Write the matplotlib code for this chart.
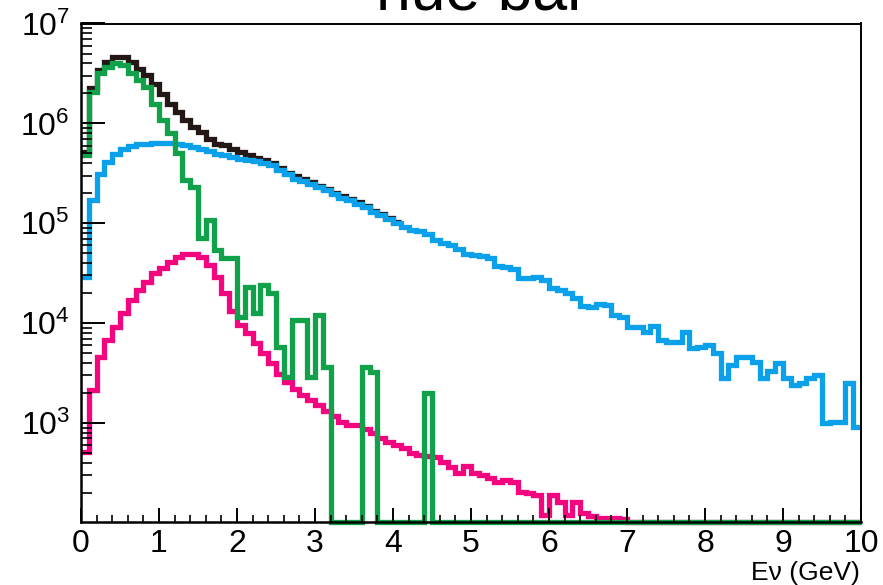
#!/usr/bin/env python3
# -*- coding: utf-8 -*-

"""
Energy spectrum (nue bar), ROOT-style log histogram.
Four stacked-looking components drawn as step outlines, 100 bins over 0-10 GeV.
"""

import numpy as np

import matplotlib
matplotlib.use("Agg", force=True)
import matplotlib.pyplot as plt
from matplotlib.ticker import FixedLocator, LogLocator, MultipleLocator, NullFormatter

# binning
E_MIN, E_MAX, N_BINS = 0.0, 10.0, 100

# total (black) - only the part that is not hidden under the blue curve
total = [
    513000, 2240000, 3390000, 4100000, 4600000, 4600000, 4100000, 3520000, 3020000, 2490000,
    1980000, 1570000, 1300000, 1070000, 918000, 818000, 703000, 627000, 603000, 558000,
    516000, 479000, 452000, 427000, 403000, 355000, 320000, 295000, 279000, 257000,
    237000, 221000, 200000, 186000, 174000, 162000, 148000, 133000, 123000, 114000,
    103000,
]

# blue component
blue = [
    29000, 170000, 314000, 410000, 498000, 558000, 589000, 617000, 627000, 635000,
    635000, 635000, 617000, 603000, 579000, 558000, 528000, 498000, 479000, 460000,
    442000, 427000, 417000, 398000, 380000, 339000, 309000, 280000, 265000, 249000,
    228000, 214000, 195000, 181000, 170000, 157000, 144000, 130000, 120000, 111000,
    101000, 91800, 85100, 83200, 78900, 67600, 62700, 60300, 55800, 49000,
    47900, 46800, 44400, 37200, 36100, 35200, 28600, 28000, 29000, 26900,
    22700, 21700, 19800, 17700, 14800, 14400, 15700, 15100, 12000, 11400,
    9190, 9190, 8180, 9330, 6760, 6500, 6500, 8180, 5580, 5790,
    6030, 4980, 2800, 3800, 4600, 4540, 4100, 2800, 3330, 3950,
    2800, 2400, 2490, 2800, 3020, 993, 1030, 1030, 2490, 918,
]

# pink component
pink = [
    516, 2140, 4570, 6760, 9120, 12600, 17000, 21400, 25700, 31600,
    35500, 40700, 45700, 49000, 49000, 45700, 38000, 28800, 20000, 13200,
    9550, 7940, 6310, 5010, 3980, 3090, 2570, 2190, 1910, 1700,
    1510, 1320, 1170, 1020, 955, 955, 871, 794, 708, 646,
    603, 562, 501, 479, 462, 457, 407, 363, 316, 372,
    316, 302, 282, 257, 269, 257, 204, 200, 191, 120,
    191, 162, 120, 162, 126, 117, 112, 112, 112, 110,
    0, 0, 0, 0, 0, 0, 0, 0, 0, 0,
    0, 0, 0, 0, 0, 0, 0, 0, 0, 0,
    0, 0, 0, 0, 0, 0, 0, 0, 0, 0,
]

# green component
green = [
    479000, 2040000, 3160000, 3670000, 3980000, 3850000, 3160000, 2690000, 2320000, 1580000,
    1070000, 794000, 501000, 269000, 229000, 70800, 107000, 53700, 44700, 44700,
    11500, 22900, 12600, 24000, 20000, 5750, 2880, 10700, 10700, 2880,
    12000, 3630, 0, 0, 0, 0, 3630, 3240, 0, 0,
    0, 0, 0, 0, 2000, 0, 0, 0, 0, 0,
    0, 0, 0, 0, 0, 0, 0, 0, 0, 0,
    0, 0, 0, 0, 0, 0, 0, 0, 0, 0,
    0, 0, 0, 0, 0, 0, 0, 0, 0, 0,
    0, 0, 0, 0, 0, 0, 0, 0, 0, 0,
    0, 0, 0, 0, 0, 0, 0, 0, 0, 0,
]

Y_MIN, Y_MAX = 102.0, 1.0e7
Y_TICKS = [1e3, 1e4, 1e5, 1e6, 1e7]
X_TICKS = list(range(0, 11))

TITLE = "nue bar"
XLABEL = "E\u03bd (GeV)"

COLORS = {
    "total": "#231815",
    "blue": "#0aa0ea",
    "pink": "#f2057f",
    "green": "#12a14b",
}


def floor_zero(vals):
    # empty bins are drawn on the axis floor, like ROOT does on a log pad
    v = np.asarray(vals, dtype=float)
    return np.where(v > 0, v, Y_MIN)


def main() -> int:
    plt.rcParams["font.family"] = ["Liberation Sans", "DejaVu Sans"]
    plt.rcParams["mathtext.fontset"] = "custom"
    plt.rcParams["mathtext.rm"] = "Liberation Sans"

    edges = np.linspace(E_MIN, E_MAX, N_BINS + 1)

    fig = plt.figure(figsize=(8.83, 5.85), dpi=100)
    ax = fig.add_axes([81 / 883, 1 - 522 / 585, 780 / 883, 498.5 / 585])

    lw = 3.8
    for name, vals in [("total", total), ("blue", blue), ("pink", pink), ("green", green)]:
        v = floor_zero(vals)
        ax.stairs(v, edges[: len(v) + 1], baseline=None, color=COLORS[name],
                  linewidth=lw, clip_on=False)

    ax.set_yscale("log")
    ax.set_xlim(E_MIN, E_MAX)
    ax.set_ylim(Y_MIN, Y_MAX)

    ax.yaxis.set_major_locator(FixedLocator(Y_TICKS))
    ax.yaxis.set_minor_locator(LogLocator(base=10, subs=np.arange(2, 10), numticks=30))
    ax.yaxis.set_minor_formatter(NullFormatter())
    ax.xaxis.set_major_locator(FixedLocator(X_TICKS))
    ax.xaxis.set_minor_locator(MultipleLocator(0.2))

    ax.tick_params(axis="both", which="both", direction="in", top=False, right=False,
                   colors="black", labelsize=23)
    ax.tick_params(axis="y", which="major", length=17, width=1.4, pad=8)
    ax.tick_params(axis="y", which="minor", length=8, width=1.2)
    ax.tick_params(axis="x", which="major", length=10, width=1.4, pad=5)
    ax.tick_params(axis="x", which="minor", length=5, width=1.2)

    for side in ["left", "bottom"]:
        ax.spines[side].set_linewidth(1.8)
    for side in ["top", "right"]:
        ax.spines[side].set_linewidth(1.4)

    # title sits mostly above the canvas, as in the original screenshot
    fig.text(482 / 883, 1 - 10 / 585, TITLE, ha="center", va="baseline", fontsize=45)
    fig.text(860 / 883, 1 - 580 / 585, XLABEL, ha="right", va="baseline", fontsize=19)

    fig.savefig("out.png", dpi=100)
    plt.close(fig)
    return 0


if __name__ == "__main__":
    raise SystemExit(main())
